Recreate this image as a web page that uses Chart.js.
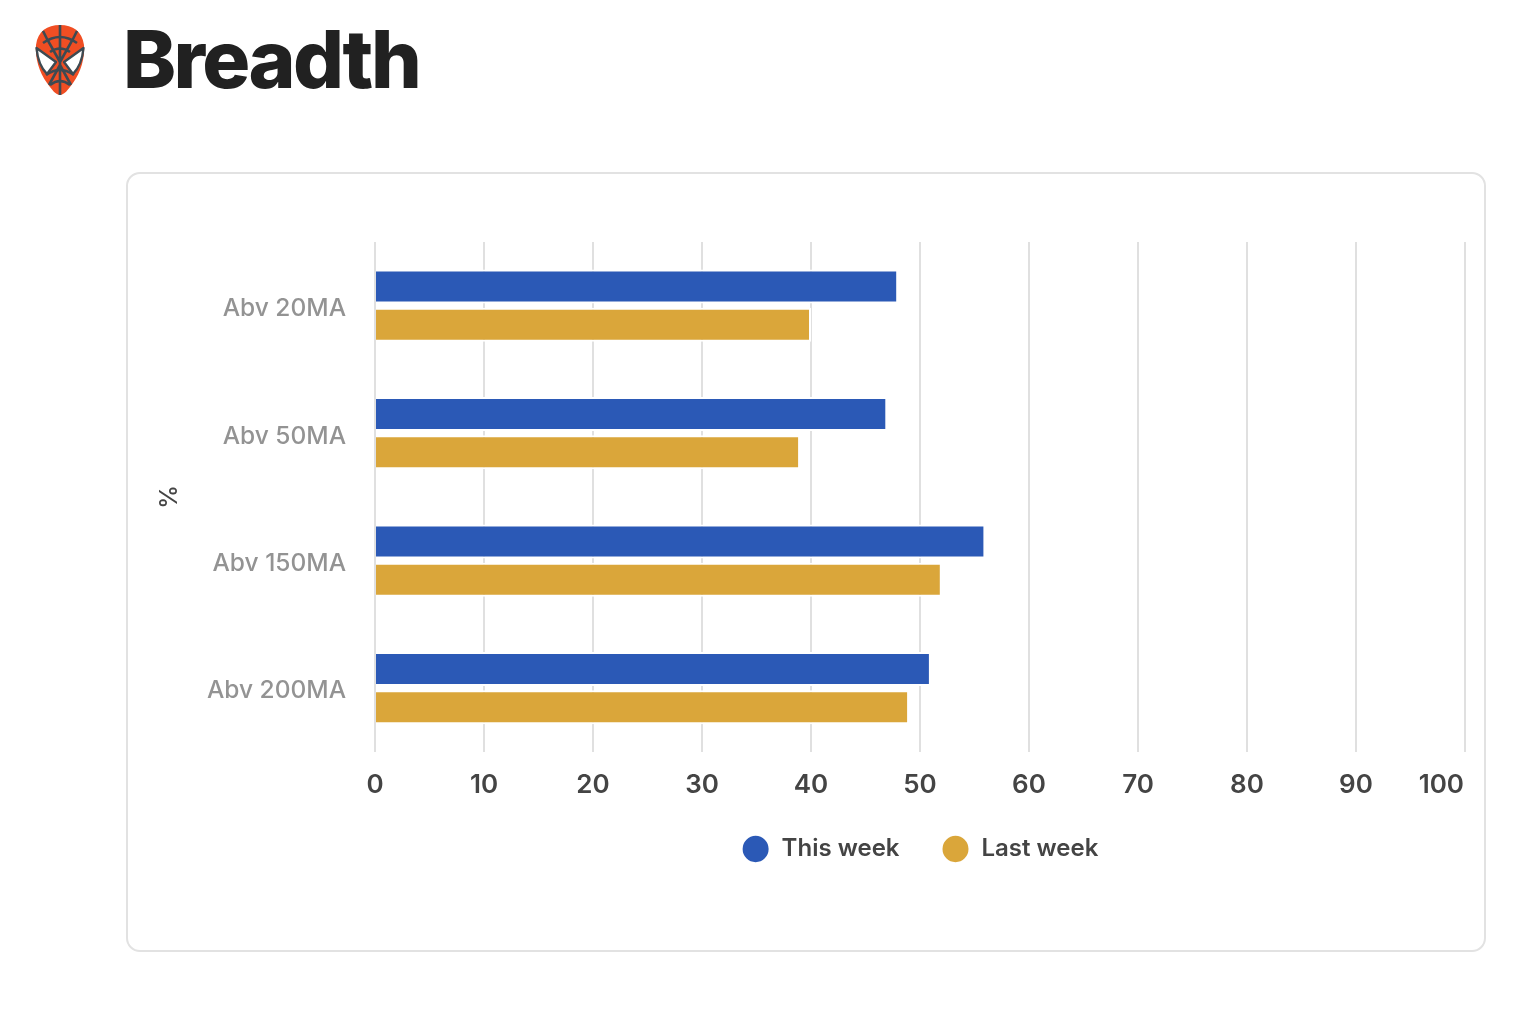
<!DOCTYPE html>
<html>
<head>
<meta charset="utf-8">
<title>Breadth</title>
<script src="https://cdn.jsdelivr.net/npm/chart.js@4/dist/chart.umd.min.js"></script>
<style>
  body { margin: 0; background: #fff; font-family: Inter, sans-serif; }
  #page { position: relative; width: 1526px; height: 1014px; overflow: hidden; }
  #logo { position: absolute; left: 35px; top: 25px; width: 50px; height: 70px; }
  h1 { position: absolute; left: 123px; top: 10px; margin: 0; font-size: 80px; line-height: 97px; font-weight: 800; color: #212121; letter-spacing: -2.6px; }
  #card { position: absolute; left: 126px; top: 172px; width: 1356px; height: 776px; border: 2px solid #e2e2e2; border-radius: 14px; }
  #chartWrap { position: absolute; left: 0; top: 0; width: 1356px; height: 776px; }
</style>
</head>
<body>
<div id="page">
  <svg id="logo" viewBox="0 0 50 70">
    <path d="M25 0C38 0 47 6 49 20C50 33 46 47 38 58C33 65 29 70 25 70C21 70 17 65 12 58C4 47 0 33 1 20C3 6 12 0 25 0Z" fill="#f04e23"/>
    <g fill="none" stroke="#3d4a52" stroke-width="2.6">
      <path d="M25 0V70M25 37L12 14L8 6M25 37L38 14L42 6M25 40L14 60M25 40L36 60"/>
      <path d="M8 18Q25 6 42 18M15 27Q25 20 35 27M11 50Q25 40 39 50M15 60Q25 52 35 60"/>
    </g>
    <path d="M1.5 23L21 37L12 49Q3 40 1.5 23ZM48.5 23L29 37L38 49Q47 40 48.5 23Z" fill="#fff" stroke="#3d4a52" stroke-width="2.4" stroke-linejoin="round"/>
  </svg>
  <h1>Breadth</h1>
  <div id="card"><div id="chartWrap"><canvas id="breadth_chart"></canvas></div></div>
</div>
<script>
var categories = ['Abv 20MA', 'Abv 50MA', 'Abv 150MA', 'Abv 200MA'];
var thisWeek = [48, 47, 56, 51];
var lastWeek = [40, 39, 52, 49];
var xTicks = [0, 10, 20, 30, 40, 50, 60, 70, 80, 90, 100];

// last x label sits right aligned inside the plot, y labels hang a bit low
var nudgeLabels = {
    id: 'nudgeLabels',
    beforeDraw: function (chart) {
        var xScale = chart.scales.x;
        var xItems = xScale.getLabelItems();
        var last = xItems[xItems.length - 1];
        last.options.textAlign = 'right';
        last.options.translation[0] = xScale.right - 1;

        var yScale = chart.scales.y;
        yScale.getLabelItems().forEach(function (item, i) {
            item.options.translation[1] = yScale.getPixelForTick(i) + 3;
        });
    }
};

var ctx = document.getElementById('breadth_chart').getContext('2d');
var breadthChart = new Chart(ctx, {
    type: 'bar',
    data: {
        labels: categories,
        datasets: [{
            label: 'This week',
            data: thisWeek,
            backgroundColor: '#2b59b6',
            borderColor: '#ffffff',
            borderWidth: 2
        }, {
            label: 'Last week',
            data: lastWeek,
            backgroundColor: '#daa63a',
            borderColor: '#ffffff',
            borderWidth: 2
        }]
    },
    plugins: [nudgeLabels],
    options: {
        indexAxis: 'y',
        responsive: true,
        maintainAspectRatio: false,
        animation: false,
        categoryPercentage: 0.6,
        barPercentage: 0.89,
        layout: { padding: { top: 68, right: 19, left: 23, bottom: 79 } },
        scales: {
            x: {
                min: 0,
                max: 100,
                afterBuildTicks: function (scale) {
                    scale.ticks = xTicks.map(function (v) { return { value: v }; });
                },
                afterFit: function (scale) {
                    scale.paddingLeft = 0;
                    scale.paddingRight = 0;
                    scale.height -= 24;
                },
                grid: { color: '#e0e0e0', lineWidth: 2, drawTicks: false },
                border: { display: false },
                ticks: {
                    color: '#444444',
                    font: { family: 'Inter', size: 26, weight: '600' },
                    padding: 18,
                    maxRotation: 0,
                    autoSkip: false
                }
            },
            y: {
                afterFit: function (scale) {
                    scale.width = 224;
                },
                grid: { display: false, drawTicks: false },
                border: { display: false },
                ticks: {
                    color: '#939393',
                    font: { family: 'Inter', size: 24.5, weight: '500' },
                    padding: 29
                },
                title: {
                    display: true,
                    text: '%',
                    color: '#444444',
                    font: { family: 'Inter', size: 24, weight: '500' }
                }
            }
        },
        plugins: {
            tooltip: { enabled: false },
            legend: {
                position: 'bottom',
                fullSize: false,
                labels: {
                    usePointStyle: true,
                    pointStyle: 'circle',
                    pointStyleWidth: 28,
                    boxHeight: 20,
                    color: '#444444',
                    padding: 42,
                    font: { family: 'Inter', size: 24, weight: '600' }
                }
            }
        }
    }
});
</script>
</body>
</html>
